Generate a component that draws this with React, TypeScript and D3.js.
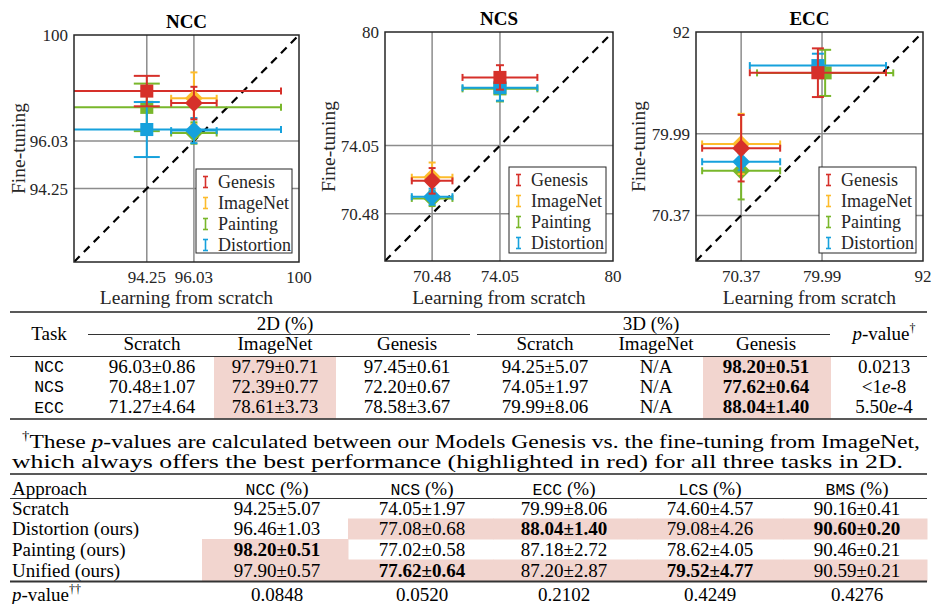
import React from 'react';
import * as d3 from 'd3';

// ---------- Chart data ----------
const SERIES_NAMES = ['Genesis', 'ImageNet', 'Painting', 'Distortion'];
const SERIES_COLORS = ['#d6302a', '#fdbc2c', '#79b72b', '#16a1dc'];

const CHART_TITLES = ['NCC', 'NCS', 'ECC'];
const CHART_DOMAINS = [[91.5, 100], [68, 80], [65, 92]];
const CHART_TICKS = [[94.25, 96.03, 100], [70.48, 74.05, 80], [70.37, 79.99, 92]];

// NCC
const NCC_SERIES = ['Painting', 'Distortion', 'Genesis', 'Painting', 'ImageNet', 'Distortion', 'Genesis'];
const NCC_MARKER = ['square', 'square', 'square', 'diamond', 'diamond', 'diamond', 'diamond'];
const NCC_X = [94.25, 94.25, 94.25, 96.03, 96.03, 96.03, 96.03];
const NCC_XERR = [5.07, 5.07, 5.07, 0.86, 0.86, 0.86, 0.86];
const NCC_Y = [97.29, 96.46, 97.9, 96.33, 97.63, 96.42, 97.45];
const NCC_YERR = [0.89, 1.03, 0.57, 0.4, 0.97, 0.47, 0.61];

// NCS
const NCS_SERIES = ['Painting', 'Distortion', 'Genesis', 'Painting', 'ImageNet', 'Distortion', 'Genesis'];
const NCS_MARKER = ['square', 'square', 'square', 'diamond', 'diamond', 'diamond', 'diamond'];
const NCS_X = [74.05, 74.05, 74.05, 70.48, 70.48, 70.48, 70.48];
const NCS_XERR = [1.97, 1.97, 1.97, 1.07, 1.07, 1.07, 1.07];
const NCS_Y = [77.02, 77.08, 77.62, 71.28, 72.39, 71.37, 72.2];
const NCS_YERR = [0.66, 0.68, 0.64, 0.4, 0.77, 0.42, 0.67];

// ECC
const ECC_SERIES = ['Painting', 'Distortion', 'Genesis', 'Painting', 'ImageNet', 'Distortion', 'Genesis'];
const ECC_MARKER = ['square', 'square', 'square', 'diamond', 'diamond', 'diamond', 'diamond'];
const ECC_X = [80.36, 79.5, 79.5, 70.37, 70.37, 70.37, 70.37];
const ECC_XERR = [8.1, 8.1, 8.1, 4.64, 4.64, 4.64, 4.64];
const ECC_Y = [87.18, 88.04, 87.2, 75.64, 78.8, 76.7, 78.3];
const ECC_YERR = [2.72, 1.4, 2.87, 3.38, 3.55, 1.0, 3.92];

// ---------- Table 1 data ----------
const T1_TASKS = ['NCC', 'NCS', 'ECC'];
const T1_SCRATCH_2D = ['96.03±0.86', '70.48±1.07', '71.27±4.64'];
const T1_IMAGENET_2D = ['97.79±0.71', '72.39±0.77', '78.61±3.73'];
const T1_GENESIS_2D = ['97.45±0.61', '72.20±0.67', '78.58±3.67'];
const T1_SCRATCH_3D = ['94.25±5.07', '74.05±1.97', '79.99±8.06'];
const T1_IMAGENET_3D = ['N/A', 'N/A', 'N/A'];
const T1_GENESIS_3D = ['98.20±0.51', '77.62±0.64', '88.04±1.40'];
const T1_PVALUE = ['0.0213', '<1e-8', '5.50e-4'];
const T1_SUBHEADERS = ['Scratch', 'ImageNet', 'Genesis', 'Scratch', 'ImageNet', 'Genesis'];

// ---------- Table 2 data ----------
const T2_TASKS = ['NCC', 'NCS', 'ECC', 'LCS', 'BMS'];
const T2_APPROACH = ['Scratch', 'Distortion (ours)', 'Painting (ours)', 'Unified (ours)'];
const T2_NCC = ['94.25±5.07', '96.46±1.03', '98.20±0.51', '97.90±0.57'];
const T2_NCS = ['74.05±1.97', '77.08±0.68', '77.02±0.58', '77.62±0.64'];
const T2_ECC = ['79.99±8.06', '88.04±1.40', '87.18±2.72', '87.20±2.87'];
const T2_LCS = ['74.60±4.57', '79.08±4.26', '78.62±4.05', '79.52±4.77'];
const T2_BMS = ['90.16±0.41', '90.60±0.20', '90.46±0.21', '90.59±0.21'];
const T2_BOLD_ROW = [2, 3, 1, 3, 1]; // per column: which row is bold
const T2_HIGHLIGHT = [
  [false, false, false, false, false],
  [false, true, true, true, true],
  [true, false, false, false, false],
  [true, true, true, true, true],
];
const T2_PVALUE = ['0.0848', '0.0520', '0.2102', '0.4249', '0.4276'];

const FOOTNOTE_1 = '-values are calculated between our Models Genesis vs. the fine-tuning from ImageNet,';
const FOOTNOTE_2 = 'which always offers the best performance (highlighted in red) for all three tasks in 2D.';

// ---------- Layout ----------
const PANEL_BOXES = [
  { x0: 74, x1: 299, y0: 35, y1: 262, ylx: 25 },
  { x0: 385, x1: 613, y0: 32, y1: 261, ylx: 335 },
  { x0: 696, x1: 923, y0: 32, y1: 261, ylx: 645 },
];
const TITLE_Y = [28, 25, 25];
const LEGEND_BOXES = [
  { x: 196, y: 169, w: 96, h: 84 },
  { x: 509, y: 167, w: 97, h: 86 },
  { x: 819, y: 167, w: 97, h: 86 },
];
const SQUARE_CAP = [26, 8, 12];
const GRID = '#8c8c8c';
const AXC = '#262626';
const CF = "'Liberation Serif', 'Times New Roman', serif";
const TF = "'Liberation Serif', 'Times New Roman', serif";
const TM = "'Liberation Mono', monospace";
const TS = 19;
const HL = '#f2d5cf';

const PANEL_DATA = [
  { s: NCC_SERIES, m: NCC_MARKER, x: NCC_X, xe: NCC_XERR, y: NCC_Y, ye: NCC_YERR },
  { s: NCS_SERIES, m: NCS_MARKER, x: NCS_X, xe: NCS_XERR, y: NCS_Y, ye: NCS_YERR },
  { s: ECC_SERIES, m: ECC_MARKER, x: ECC_X, xe: ECC_XERR, y: ECC_Y, ye: ECC_YERR },
];

const colorOf = (s: string) => SERIES_COLORS[SERIES_NAMES.indexOf(s)];

function Panel({ i }: { i: number }) {
  const b = PANEL_BOXES[i];
  const dom = CHART_DOMAINS[i];
  const x = d3.scaleLinear().domain(dom).range([b.x0, b.x1]);
  const y = d3.scaleLinear().domain(dom).range([b.y1, b.y0]);
  const d = PANEL_DATA[i];
  const capW = SQUARE_CAP[i];
  const squarePath = d3.symbol().type(d3.symbolSquare).size(170)() as string;
  const diamondPath = d3.symbol().type(d3.symbolSquare).size(160)() as string;
  const cx = (b.x0 + b.x1) / 2;
  const cy = (b.y0 + b.y1) / 2;
  const lb = LEGEND_BOXES[i];
  const clipId = `clip-${i}`;
  return (
    <g fontFamily={CF}>
      <defs>
        <clipPath id={clipId}>
          <rect x={b.x0} y={b.y0} width={b.x1 - b.x0} height={b.y1 - b.y0} />
        </clipPath>
      </defs>
      <rect x={b.x0} y={b.y0} width={b.x1 - b.x0} height={b.y1 - b.y0} fill="#fff" />
      {CHART_TICKS[i].filter((t) => t < dom[1]).map((t) => (
        <g key={t}>
          <line x1={x(t)} x2={x(t)} y1={b.y0} y2={b.y1} stroke={GRID} strokeWidth={1.5} />
          <line x1={b.x0} x2={b.x1} y1={y(t)} y2={y(t)} stroke={GRID} strokeWidth={1.5} />
        </g>
      ))}
      <g clipPath={`url(#${clipId})`}>
        <line
          x1={x(dom[0])}
          y1={y(dom[0])}
          x2={x(dom[1])}
          y2={y(dom[1])}
          stroke="#000"
          strokeWidth={2.2}
          strokeDasharray="8 6"
        />
        {d.s.map((s, k) => {
          const c = colorOf(s);
          const px = x(d.x[k]);
          const py = y(d.y[k]);
          const xl = x(d.x[k] - d.xe[k]);
          const xr = x(d.x[k] + d.xe[k]);
          const yt = y(d.y[k] + d.ye[k]);
          const yb = y(d.y[k] - d.ye[k]);
          const isSq = d.m[k] === 'square';
          const vc = isSq ? capW : 7;
          const hc = 7;
          return (
            <g key={k}>
              <g stroke={c} strokeWidth={2} fill="none">
                <line x1={xl} x2={xr} y1={py} y2={py} />
                <line x1={xl} x2={xl} y1={py - hc / 2} y2={py + hc / 2} />
                <line x1={xr} x2={xr} y1={py - hc / 2} y2={py + hc / 2} />
                <line x1={px} x2={px} y1={yt} y2={yb} />
                <line x1={px - vc / 2} x2={px + vc / 2} y1={yt} y2={yt} />
                <line x1={px - vc / 2} x2={px + vc / 2} y1={yb} y2={yb} />
              </g>
              <path
                d={isSq ? squarePath : diamondPath}
                transform={`translate(${px},${py})${isSq ? '' : ' rotate(45)'}`}
                fill={c}
              />
            </g>
          );
        })}
      </g>
      <rect x={b.x0} y={b.y0} width={b.x1 - b.x0} height={b.y1 - b.y0} fill="none" stroke={AXC} strokeWidth={1.5} />
      {CHART_TICKS[i].map((t) => (
        <text key={'x' + t} x={x(t)} y={b.y1 + 21} textAnchor="middle" fontSize={17} fill={AXC}>
          {String(t)}
        </text>
      ))}
      {CHART_TICKS[i].map((t) => (
        <text key={'y' + t} x={b.x0 - 6} y={y(t) + 6} textAnchor="end" fontSize={17} fill={AXC}>
          {String(t)}
        </text>
      ))}
      <text x={cx} y={TITLE_Y[i]} textAnchor="middle" fontSize={19} fontWeight="bold" fill="#000">
        {CHART_TITLES[i]}
      </text>
      <text x={cx} y={304} textAnchor="middle" fontSize={19.5} fill={AXC}>
        Learning from scratch
      </text>
      <text transform={`translate(${b.ylx},${cy}) rotate(-90)`} textAnchor="middle" fontSize={19.5} fill={AXC}>
        Fine-tuning
      </text>
      <rect x={lb.x} y={lb.y} width={lb.w} height={lb.h} fill="#fff" stroke={AXC} strokeWidth={1} />
      {SERIES_NAMES.map((s, k) => {
        const ry = lb.y + 13 + k * 21;
        const c = SERIES_COLORS[k];
        const ix = lb.x + 9.5;
        return (
          <g key={s}>
            <g stroke={c} strokeWidth={1.6}>
              <line x1={ix} x2={ix} y1={ry - 5.5} y2={ry + 5.5} />
              <line x1={ix - 2.5} x2={ix + 2.5} y1={ry - 5.5} y2={ry - 5.5} />
              <line x1={ix - 2.5} x2={ix + 2.5} y1={ry + 5.5} y2={ry + 5.5} />
            </g>
            <text x={lb.x + 22} y={ry + 6} fontSize={18} fill={AXC}>
              {s}
            </text>
          </g>
        );
      })}
    </g>
  );
}

function PVal({ s }: { s: string }) {
  const parts = s.split('e');
  return (
    <>
      {parts.map((p, k) => (
        <React.Fragment key={k}>
          {k > 0 && <tspan fontStyle="italic">e</tspan>}
          <tspan>{p}</tspan>
        </React.Fragment>
      ))}
    </>
  );
}

const T1_COLS = [49, 152, 275, 407, 545, 656, 766, 884];
const T1_ROW_Y = [366, 386, 406.5];

function Table1() {
  const cols = [T1_SCRATCH_2D, T1_IMAGENET_2D, T1_GENESIS_2D, T1_SCRATCH_3D, T1_IMAGENET_3D, T1_GENESIS_3D];
  return (
    <g fontFamily={TF} fontSize={TS} fill="#000">
      <rect x={214} y={356.5} width={122} height={62} fill={HL} />
      <rect x={703} y={356.5} width={128} height={62} fill={HL} />
      <line x1={10} x2={927} y1={312} y2={312} stroke="#222" strokeWidth={1.6} />
      <line x1={88} x2={470} y1={334.5} y2={334.5} stroke="#333" strokeWidth={1.1} />
      <line x1={477} x2={830} y1={334.5} y2={334.5} stroke="#333" strokeWidth={1.1} />
      <line x1={10} x2={927} y1={356.5} y2={356.5} stroke="#333" strokeWidth={1} />
      <line x1={10} x2={927} y1={419} y2={419} stroke="#222" strokeWidth={1.6} />
      <text x={T1_COLS[0]} y={339.5} textAnchor="middle">Task</text>
      <text x={285} y={329.5} textAnchor="middle">2D (%)</text>
      <text x={651} y={329.5} textAnchor="middle">3D (%)</text>
      <text x={T1_COLS[7]} y={339.5} textAnchor="middle">
        <tspan fontStyle="italic">p</tspan>-value<tspan fontSize={12} dy={-8} fill="#000">†</tspan>
      </text>
      {T1_SUBHEADERS.map((h, k) => (
        <text key={k} x={T1_COLS[k + 1]} y={349.5} textAnchor="middle">{h}</text>
      ))}
      {T1_TASKS.map((t, r) => (
        <g key={t}>
          <text x={T1_COLS[0]} y={T1_ROW_Y[r] + 6} textAnchor="middle" fontFamily={TM} fontSize={16.5}>{t}</text>
          {cols.map((c, k) => (
            <text key={k} x={T1_COLS[k + 1]} y={T1_ROW_Y[r] + 6.5} textAnchor="middle" fontWeight={k === 5 ? 'bold' : 'normal'}>
              {c[r]}
            </text>
          ))}
          <text x={T1_COLS[7]} y={T1_ROW_Y[r] + 6.5} textAnchor="middle"><PVal s={T1_PVALUE[r]} /></text>
        </g>
      ))}
    </g>
  );
}

function Footnote() {
  return (
    <g fontFamily={TF} fontSize={TS} fill="#000">
      <text x={22} y={448} textLength={898} lengthAdjust="spacingAndGlyphs">
        <tspan fontSize={12} dy={-8}>†</tspan>
        <tspan dy={8}>These </tspan>
        <tspan fontStyle="italic">p</tspan>
        <tspan>{FOOTNOTE_1}</tspan>
      </text>
      <text x={12} y={468} textLength={891} lengthAdjust="spacingAndGlyphs">{FOOTNOTE_2}</text>
    </g>
  );
}

const T2_COLS = [277, 422, 564, 710, 857];
const T2_BOUNDS = [202, 348, 493, 637, 783, 927];
const T2_ROW_TOPS = [498.5, 518.5, 539, 559.5, 581];

function Table2() {
  const cols = [T2_NCC, T2_NCS, T2_ECC, T2_LCS, T2_BMS];
  return (
    <g fontFamily={TF} fontSize={TS} fill="#000">
      {T2_HIGHLIGHT.map((row, r) =>
        row.map((h, c) =>
          h ? (
            <rect
              key={`${r}-${c}`}
              x={T2_BOUNDS[c]}
              y={T2_ROW_TOPS[r]}
              width={T2_BOUNDS[c + 1] - T2_BOUNDS[c] + 0.5}
              height={T2_ROW_TOPS[r + 1] - T2_ROW_TOPS[r] + 0.5}
              fill={HL}
            />
          ) : null
        )
      )}
      <line x1={10} x2={927} y1={474} y2={474} stroke="#222" strokeWidth={1.6} />
      <line x1={10} x2={927} y1={498.5} y2={498.5} stroke="#333" strokeWidth={1} />
      <line x1={10} x2={927} y1={581.5} y2={581.5} stroke="#333" strokeWidth={2} />
      <text x={12} y={494.5}>Approach</text>
      {T2_TASKS.map((t, k) => (
        <text key={t} x={T2_COLS[k]} y={494.5} textAnchor="middle">
          <tspan fontFamily={TM} fontSize={16.5}>{t}</tspan>
          <tspan> (%)</tspan>
        </text>
      ))}
      {T2_APPROACH.map((a, r) => {
        const cy = (T2_ROW_TOPS[r] + T2_ROW_TOPS[r + 1]) / 2;
        return (
          <g key={a}>
            <text x={12} y={cy + 6.5}>{a}</text>
            {cols.map((c, k) => (
              <text key={k} x={T2_COLS[k]} y={cy + 6.5} textAnchor="middle" fontWeight={T2_BOLD_ROW[k] === r ? 'bold' : 'normal'}>
                {c[r]}
              </text>
            ))}
          </g>
        );
      })}
      <text x={12} y={601}>
        <tspan fontStyle="italic">p</tspan>-value<tspan fontSize={12} dy={-8} fill="#000">††</tspan>
      </text>
      {T2_PVALUE.map((p, k) => (
        <text key={k} x={T2_COLS[k]} y={601} textAnchor="middle">{p}</text>
      ))}
    </g>
  );
}

export default function App() {
  return (
    <svg
      width={933}
      height={604}
      viewBox="0 0 933 604"
      style={{ position: 'absolute', left: 0, top: 0, background: '#fff' }}
    >
      <rect width={933} height={604} fill="#fff" />
      {[0, 1, 2].map((i) => (
        <Panel key={i} i={i} />
      ))}
      <Table1 />
      <Footnote />
      <Table2 />
    </svg>
  );
}
